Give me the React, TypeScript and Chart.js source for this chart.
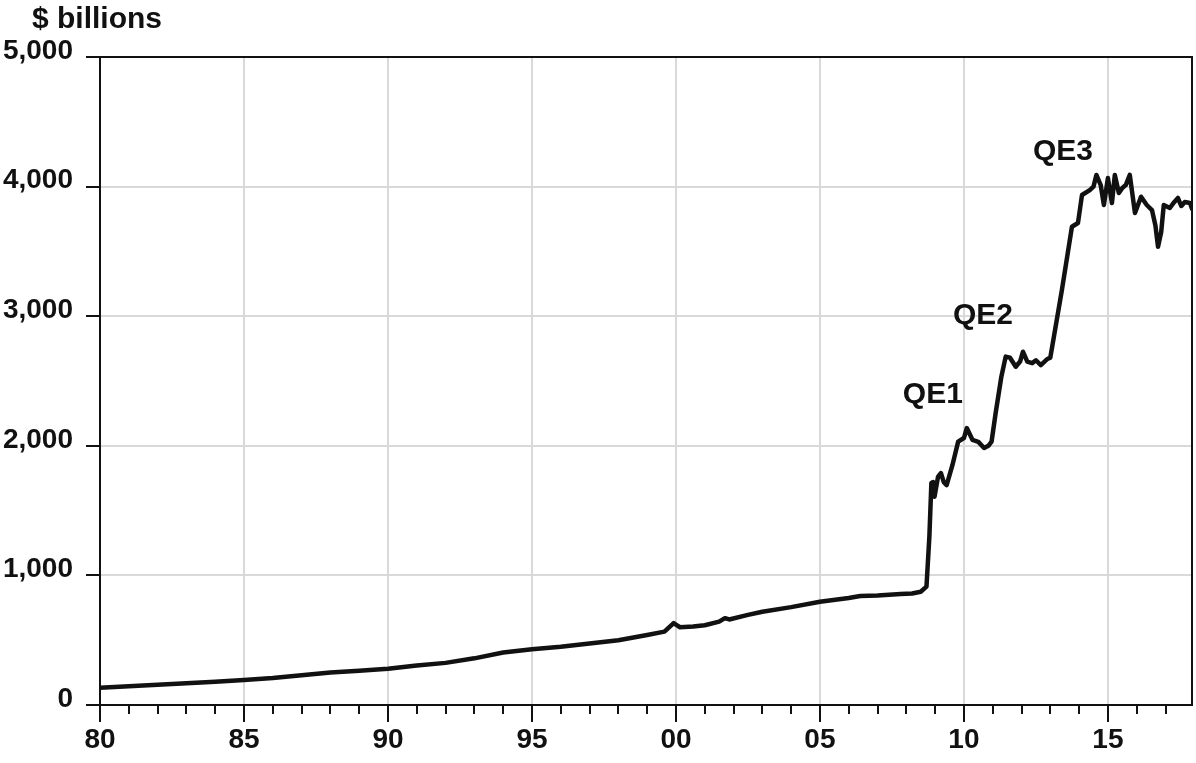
import React, { useEffect, useRef } from "react";
import { Chart, registerables } from "chart.js";

Chart.register(...registerables);

// ---- data ----
const years: number[] = [
  1980.0, 1981.0, 1982.0, 1983.0, 1984.0, 1985.0, 1986.0, 1987.0, 1988.0, 1989.0,
  1990.0, 1991.0, 1992.0, 1993.0, 1994.0, 1995.0, 1996.0, 1997.0, 1998.0, 1999.0,
  1999.6, 1999.92, 2000.0, 2000.14, 2000.6, 2001.0, 2001.5, 2001.7, 2001.85, 2002.5,
  2003.0, 2004.0, 2005.0, 2006.0, 2006.4, 2007.0, 2007.8, 2008.2, 2008.5, 2008.7,
  2008.8, 2008.87, 2008.93, 2008.98, 2009.1, 2009.2, 2009.3, 2009.4, 2009.6, 2009.8,
  2010.0, 2010.1, 2010.3, 2010.5, 2010.7, 2010.85, 2010.96, 2011.1, 2011.3, 2011.45,
  2011.6, 2011.8, 2011.95, 2012.05, 2012.2, 2012.37, 2012.5, 2012.67, 2012.9, 2013.0,
  2013.4, 2013.75, 2013.96, 2014.1, 2014.37, 2014.5, 2014.6, 2014.75, 2014.86, 2015.0,
  2015.14, 2015.24, 2015.38, 2015.5, 2015.62, 2015.76, 2015.94, 2016.15, 2016.35, 2016.53,
  2016.65, 2016.74, 2016.85, 2016.94, 2017.15, 2017.3, 2017.43, 2017.55, 2017.67, 2017.85,
  2017.92,
];

const balance: number[] = [
  133, 145, 156, 167, 180, 193, 208, 230, 250, 265,
  280, 305, 325, 360, 405, 430, 450, 475, 500, 540,
  566, 632, 620, 600, 605, 615, 643, 670, 660, 695,
  720, 755, 797, 825, 841, 845, 856, 860, 874, 913,
  1300, 1713, 1720, 1607, 1760, 1790, 1720, 1697, 1850, 2032,
  2060, 2137, 2045, 2030, 1983, 2000, 2032, 2250, 2533, 2688,
  2680, 2610, 2650, 2726, 2650, 2638, 2660, 2623, 2670, 2680,
  3200, 3690, 3719, 3935, 3973, 4000, 4090, 4012, 3858, 4066,
  3873, 4090, 3950, 3990, 4012, 4090, 3796, 3922, 3858, 3819,
  3700, 3536, 3650, 3858, 3835, 3880, 3912, 3850, 3881, 3873,
  3830,
];

const qeLabels: string[] = ["QE1", "QE2", "QE3"];
const qeYears: number[] = [2008.92, 2010.66, 2013.44];
const qeValues: number[] = [2392, 3002, 4267];

const yTickValues: number[] = [0, 1000, 2000, 3000, 4000, 5000];
const unitLabel = "$ billions";

const X_MIN = 1980;
const X_MAX = 2017.92;

const FONT = "'Liberation Sans', Arial, Helvetica, sans-serif";
const INK = "#111111";
const GRID = "#d9d9d9";

const decorPlugin = {
  id: "decor",
  afterDatasetsDraw(chart: any) {
    const { ctx, chartArea, scales } = chart;
    const xs = scales.x;
    const ys = scales.y;
    ctx.save();
    // frame
    ctx.strokeStyle = INK;
    ctx.lineWidth = 2;
    ctx.strokeRect(chartArea.left, chartArea.top, chartArea.right - chartArea.left, chartArea.bottom - chartArea.top);
    // x ticks (major every 5 years, minor every year)
    for (let yr = Math.ceil(X_MIN); yr <= X_MAX; yr++) {
      const px = Math.round(xs.getPixelForValue(yr));
      const len = yr % 5 === 0 ? 17 : 9;
      ctx.beginPath();
      ctx.moveTo(px, chartArea.bottom);
      ctx.lineTo(px, chartArea.bottom + len);
      ctx.stroke();
    }
    // y ticks
    for (const v of yTickValues) {
      const py = Math.round(ys.getPixelForValue(v));
      ctx.beginPath();
      ctx.moveTo(chartArea.left - 14, py);
      ctx.lineTo(chartArea.left, py);
      ctx.stroke();
    }
    // QE annotations
    ctx.fillStyle = INK;
    ctx.font = `bold 30px ${FONT}`;
    ctx.textAlign = "center";
    ctx.textBaseline = "middle";
    qeLabels.forEach((t, i) => {
      ctx.fillText(t, xs.getPixelForValue(qeYears[i]), ys.getPixelForValue(qeValues[i]));
    });
    // unit label
    ctx.textAlign = "left";
    ctx.textBaseline = "alphabetic";
    ctx.fillText(unitLabel, 32, 28);
    ctx.restore();
  },
};

export default function App() {
  const canvasRef = useRef<HTMLCanvasElement | null>(null);

  useEffect(() => {
    if (!canvasRef.current) return;
    const points = years.map((x, i) => ({ x, y: balance[i] }));
    const chart = new Chart(canvasRef.current, {
      type: "line",
      data: {
        datasets: [
          {
            data: points,
            borderColor: INK,
            borderWidth: 4.5,
            pointRadius: 0,
            tension: 0,
            borderJoinStyle: "round",
            borderCapStyle: "round",
            fill: false,
          },
        ],
      },
      options: {
        animation: false,
        responsive: false,
        devicePixelRatio: 1,
        parsing: false,
        layout: { padding: { top: 57, right: 4, left: 0, bottom: 0 } },
        plugins: {
          legend: { display: false },
          tooltip: { enabled: false },
          title: { display: false },
        },
        scales: {
          x: {
            type: "linear",
            min: X_MIN,
            max: X_MAX,
            afterFit(scale: any) {
              scale.height = 58;
              scale.paddingLeft = 0;
              scale.paddingRight = 0;
            },
            border: { display: true, color: INK, width: 2 },
            grid: {
              drawTicks: false,
              lineWidth: 2,
              color: (c: any) => {
                const v = c.tick && c.tick.value;
                return typeof v === "number" && Math.abs(v - Math.round(v)) < 1e-6 && Math.round(v) % 5 === 0 ? GRID : "rgba(0,0,0,0)";
              },
            },
            ticks: {
              stepSize: 1,
              autoSkip: false,
              maxRotation: 0,
              minRotation: 0,
              padding: 18,
              color: INK,
              font: { family: FONT, size: 28, weight: "bold" },
              callback: (value: any) => {
                const v = Number(value);
                if (Math.abs(v - Math.round(v)) > 1e-6) return "";
                const r = Math.round(v);
                if (r % 5 !== 0) return "";
                return String(r % 100).padStart(2, "0");
              },
            },
          },
          y: {
            type: "linear",
            min: 0,
            max: 5000,
            afterFit(scale: any) {
              scale.width = 100;
              scale.paddingTop = 0;
              scale.paddingBottom = 0;
            },
            border: { display: true, color: INK, width: 2 },
            grid: {
              drawTicks: false,
              lineWidth: 2,
              color: GRID,
            },
            ticks: {
              stepSize: 1000,
              padding: 27,
              labelOffset: -6,
              color: INK,
              font: { family: FONT, size: 28, weight: "bold" },
              callback: (value: any) => Number(value).toLocaleString("en-US"),
            },
          },
        },
      },
      plugins: [decorPlugin],
    } as any);
    return () => chart.destroy();
  }, []);

  return (
    <div style={{ position: "absolute", left: 0, top: 0, width: 1196, height: 763, background: "#ffffff" }}>
      <canvas ref={canvasRef} width={1196} height={763} style={{ display: "block" }} />
    </div>
  );
}
